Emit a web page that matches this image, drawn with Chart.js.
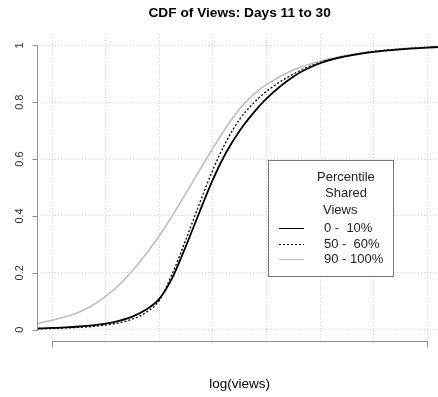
<!DOCTYPE html>
<html>
<head>
<meta charset="utf-8">
<script src="https://cdn.jsdelivr.net/npm/chart.js@4"></script>
<style>
  body { margin: 0; background: #fff; }
  #box { width: 438px; height: 397px; }
</style>
</head>
<body>
<div id="box"><canvas id="grafico" width="438" height="397"></canvas></div>
<script>
// log(views) positions where the curves are sampled
var xValues = [0.72, 1, 1.25, 1.5, 1.75, 2, 2.25, 2.5, 2.75, 3, 3.25, 3.5, 3.75, 4, 4.25, 4.5, 4.75, 5, 5.5, 6, 6.5, 7, 7.5, 8, 8.2];

// cumulative share for each percentile group
var cdf0a10 = [0.004, 0.006, 0.008, 0.011, 0.015, 0.021, 0.031, 0.046, 0.07, 0.108, 0.185, 0.295, 0.413, 0.528, 0.624, 0.70, 0.761, 0.813, 0.89, 0.937, 0.962, 0.977, 0.986, 0.992, 0.994];
var cdf50a60 = [0.003, 0.004, 0.006, 0.008, 0.011, 0.016, 0.024, 0.037, 0.06, 0.103, 0.2, 0.318, 0.443, 0.562, 0.662, 0.74, 0.795, 0.838, 0.899, 0.94, 0.963, 0.978, 0.987, 0.993, 0.995];
var cdf90a100 = [0.021, 0.033, 0.045, 0.061, 0.085, 0.117, 0.157, 0.207, 0.265, 0.33, 0.403, 0.48, 0.56, 0.638, 0.712, 0.777, 0.826, 0.862, 0.913, 0.944, 0.965, 0.979, 0.988, 0.993, 0.995];

var seriesLabels = ['0 -  10%', '50 -  60%', '90 - 100%'];
var legendTitle = ['Percentile', 'Shared', 'Views'];

var yTicks = [0, 0.2, 0.4, 0.6, 0.8, 1];
var yTickLabels = ['0', '0.2', '0.4', '0.6', '0.8', '1'];
var xTicks = [1, 2, 3, 4, 5, 6, 7, 8];

function pontos(ys) {
    return xValues.map(function (x, i) { return { x: x, y: ys[i] }; });
}

var fonte = '"Liberation Sans", Arial, Helvetica, sans-serif';

// axes, titles and legend drawn the way base R does it
var eixosR = {
    id: 'eixosR',
    afterDraw: function (chart) {
        var ctx = chart.ctx;
        var sx = chart.scales.x, sy = chart.scales.y;
        var area = chart.chartArea;
        ctx.save();

        // y axis
        ctx.strokeStyle = '#8f8f8f';
        ctx.lineWidth = 1;
        var ax = Math.round(area.left) + 0.5;
        ctx.beginPath();
        ctx.moveTo(ax, sy.getPixelForValue(0));
        ctx.lineTo(ax, sy.getPixelForValue(1));
        yTicks.forEach(function (t) {
            var py = Math.round(sy.getPixelForValue(t)) + 0.5;
            ctx.moveTo(ax - 5, py);
            ctx.lineTo(ax, py);
        });
        ctx.stroke();

        ctx.fillStyle = '#333';
        ctx.font = '11px ' + fonte;
        ctx.textAlign = 'center';
        ctx.textBaseline = 'middle';
        yTicks.forEach(function (t, i) {
            ctx.save();
            ctx.translate(20, sy.getPixelForValue(t));
            ctx.rotate(-Math.PI / 2);
            ctx.fillText(yTickLabels[i], 0, 0);
            ctx.restore();
        });

        // x axis: line between the first and last tick only
        var xa = Math.round(sx.getPixelForValue(xTicks[0])) + 0.5;
        var xb = Math.round(sx.getPixelForValue(xTicks[xTicks.length - 1])) + 0.5;
        var by = Math.round(area.bottom) + 0.5;
        ctx.beginPath();
        ctx.moveTo(xa, by + 6);
        ctx.lineTo(xa, by);
        ctx.lineTo(xb, by);
        ctx.lineTo(xb, by + 6);
        ctx.stroke();

        // titles, centred on the plot region
        var cx = (sx.getPixelForValue(0.72) + sx.getPixelForValue(8.28)) / 2;
        ctx.fillStyle = '#000';
        ctx.font = 'bold 13.7px ' + fonte;
        ctx.fillText('CDF of Views: Days 11 to 30', cx, 13);
        ctx.font = '13.5px ' + fonte;
        ctx.fillText('log(views)', cx, 384);

        // legend box
        var lx = 268, ly = 160, lw = 125, lh = 116;
        ctx.fillStyle = '#fff';
        ctx.fillRect(lx, ly, lw, lh);
        ctx.strokeStyle = '#777';
        ctx.strokeRect(lx + 0.5, ly + 0.5, lw, lh);

        ctx.fillStyle = '#222';
        ctx.textAlign = 'left';
        ctx.font = '13px ' + fonte;
        var tituloX = [317, 325, 323];
        legendTitle.forEach(function (t, i) {
            ctx.fillText(t, tituloX[i], 177 + i * 16.5);
        });
        chart.data.datasets.forEach(function (ds, i) {
            var yy = Math.round(228 + i * 15.5) + 0.5;
            ctx.save();
            ctx.strokeStyle = ds.borderColor;
            ctx.lineWidth = 1;
            ctx.setLineDash(ds.borderDash || []);
            ctx.beginPath();
            ctx.moveTo(279, yy);
            ctx.lineTo(304, yy);
            ctx.stroke();
            ctx.restore();
            ctx.fillText(ds.label, 324, yy);
        });
        ctx.restore();
    }
};

var data = {
    datasets: [{
        label: seriesLabels[0],
        data: pontos(cdf0a10),
        borderColor: '#000',
        borderWidth: 1.8
    },
    {
        label: seriesLabels[1],
        data: pontos(cdf50a60),
        borderColor: '#000',
        borderWidth: 1.3,
        borderDash: [2, 2]
    },
    {
        label: seriesLabels[2],
        data: pontos(cdf90a100),
        borderColor: '#bdbdbd',
        borderWidth: 1.6
    }]
};

// dotted grid like R's grid()
var grade = {
    color: '#cfcfcf',
    lineWidth: 1,
    drawTicks: false
};

var options = {
    responsive: false,
    animation: false,
    layout: { padding: { left: 37, top: 34, right: 0, bottom: 56 } },
    elements: {
        point: { radius: 0 },
        line: { cubicInterpolationMode: 'monotone', fill: false }
    },
    plugins: {
        legend: { display: false },
        title: { display: false },
        tooltip: { enabled: false }
    },
    scales: {
        x: {
            type: 'linear',
            min: 0.72,
            max: 8.2,
            grid: grade,
            border: { display: false, dash: [1, 2] },
            ticks: { display: false },
            afterBuildTicks: function (scale) {
                scale.ticks = xTicks.map(function (v) { return { value: v }; });
            }
        },
        y: {
            min: -0.04,
            max: 1.04,
            grid: grade,
            border: { display: false, dash: [1, 2] },
            ticks: { display: false },
            afterBuildTicks: function (scale) {
                scale.ticks = yTicks.map(function (v) { return { value: v }; });
            }
        }
    }
};

var ctx = document.querySelector('#grafico').getContext('2d');
var cdfChart = new Chart(ctx, {
    type: 'line',
    data: data,
    options: options,
    plugins: [eixosR]
});
</script>
</body>
</html>
